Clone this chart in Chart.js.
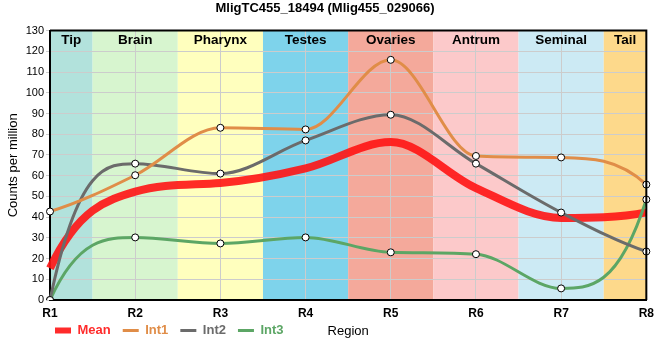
<!DOCTYPE html>
<html>
<head>
<meta charset="utf-8">
<script src="https://cdn.jsdelivr.net/npm/chart.js@4"></script>
<style>
html,body{margin:0;padding:0;background:#fff;}
#wrap{width:660px;height:360px;}
</style>
</head>
<body>
<div id="wrap"><canvas id="c" width="660" height="360"></canvas></div>
<script>
// ---- data ----
const regions = ['R1', 'R2', 'R3', 'R4', 'R5', 'R6', 'R7', 'R8'];
const bandNames = ['Tip', 'Brain', 'Pharynx', 'Testes', 'Ovaries', 'Antrum', 'Seminal', 'Tail'];
const bandColors = ['#b2e2dc', '#d7f5cf', '#ffffbe', '#7ed3eb', '#f4a99b', '#fcc9ca', '#cceaf4', '#fdd98b'];
const meanValues = [15.3, 52.3, 56.5, 63.5, 76.2, 54, 39.6, 42.3];
const int1Values = [42.7, 60.2, 83.1, 82.3, 115.9, 69.5, 68.8, 55.7];
const int2Values = [0, 65.8, 61, 77, 89.4, 65.8, 42.2, 23.4];
const int3Values = [0, 30.2, 27.3, 30.2, 23, 22.1, 5.6, 48.5];
const yMin = 0, yMax = 130, yStep = 10;
const titleText = 'MligTC455_18494 (Mlig455_029066)';
const xTitle = 'Region';
const yTitle = 'Counts per million';

const FONT = "'Liberation Sans', Arial, Helvetica, sans-serif";

// background bands + labels
const bandPlugin = {
  id: 'bands',
  beforeDraw(chart) {
    const {ctx, chartArea: a, scales: {x}} = chart;
    ctx.save();
    bandNames.forEach((name, i) => {
      const l = Math.max(a.left, x.getPixelForValue(i - 0.5));
      const r = Math.min(a.right, x.getPixelForValue(i + 0.5));
      ctx.fillStyle = bandColors[i];
      ctx.fillRect(l, a.top, r - l, a.bottom - a.top);
    });
    ctx.restore();
  },
  afterDatasetsDraw(chart) {
    const {ctx, chartArea: a, scales: {x}} = chart;
    ctx.save();
    ctx.font = "bold 13.5px " + FONT;
    ctx.fillStyle = '#000';
    ctx.textAlign = 'center';
    ctx.textBaseline = 'middle';
    bandNames.forEach((name, i) => {
      const l = Math.max(a.left, x.getPixelForValue(i - 0.5));
      const r = Math.min(a.right, x.getPixelForValue(i + 0.5));
      ctx.fillText(name, (l + r) / 2, a.top + 10);
    });
    ctx.restore();
  },
  afterDraw(chart) {
    const {ctx, chartArea: a} = chart;
    ctx.save();
    ctx.strokeStyle = '#000';
    ctx.lineWidth = 2;
    ctx.beginPath();
    ctx.moveTo(a.left, a.top);
    ctx.lineTo(a.right, a.top);
    ctx.lineTo(a.right, a.bottom);
    ctx.stroke();
    ctx.restore();
  }
};

// end-point tangents (steeper spline ends)
function clampSlope(m, d) {
  if (d === 0) return 0;
  const r = m / d;
  return d * Math.max(0, Math.min(3, r));
}
const endSlopePlugin = {
  id: 'endSlopes',
  beforeDatasetDraw(chart, args) {
    const meta = args.meta;
    const line = meta.dataset;
    if (!line || !line.updateControlPoints) return;
    line.updateControlPoints(chart.chartArea, meta.iScale.axis);
    const pts = line.points;
    const n = pts.length;
    if (n < 3) return;
    const p0 = pts[0], p1 = pts[1];
    let dx = p1.x - p0.x;
    let d = (p1.y - p0.y) / dx;
    let m1 = (p1.cp2y - p1.y) / (p1.cp2x - p1.x);
    let m0 = clampSlope(3 * d - 2 * m1, d);
    p0.cp2x = p0.x + dx / 3; p0.cp2y = p0.y + m0 * dx / 3;
    const pn = pts[n - 1], pm = pts[n - 2];
    dx = pn.x - pm.x;
    d = (pn.y - pm.y) / dx;
    m1 = (pm.cp1y - pm.y) / (pm.cp1x - pm.x);
    let mn = clampSlope(3 * d - 2 * m1, d);
    pn.cp1x = pn.x - dx / 3; pn.cp1y = pn.y - mn * dx / 3;
  }
};

// move legend so its first item starts near the axis and sits on the axis-title line
const legendShift = {
  id: 'legendShift',
  afterLayout(chart) {
    const L = chart.legend;
    if (L) { L.left -= 7; L.right -= 7; L.top -= 8; L.bottom -= 8; }
  }
};

const lineCommon = {
  cubicInterpolationMode: 'monotone',
  fill: false,
  pointRadius: 3.5,
  pointBackgroundColor: '#ffffff',
  pointBorderColor: '#000000',
  pointBorderWidth: 1,
  borderWidth: 3
};

const legendLineWidth = [6, 3, 3, 3];

new Chart(document.getElementById('c'), {
  type: 'line',
  data: {
    labels: regions,
    datasets: [
      {label: 'Mean', data: meanValues, borderColor: 'rgba(255,20,20,0.9)', backgroundColor: 'rgba(255,20,20,0.9)',
       borderWidth: 8, pointRadius: 0, cubicInterpolationMode: 'monotone', fill: false, order: 1},
      Object.assign({label: 'Int1', data: int1Values, borderColor: '#e08d48', backgroundColor: '#e08d48', order: 0}, lineCommon),
      Object.assign({label: 'Int2', data: int2Values, borderColor: '#6b6b6b', backgroundColor: '#6b6b6b', order: 0}, lineCommon),
      Object.assign({label: 'Int3', data: int3Values, borderColor: '#5ca665', backgroundColor: '#5ca665', order: 0}, lineCommon)
    ]
  },
  options: {
    responsive: false,
    animation: false,
    events: [],
    layout: {padding: {left: 0, right: 10, top: 0, bottom: 5}},
    plugins: {
      title: {display: true, text: titleText, color: '#000',
              font: {family: FONT, size: 13, weight: 'bold'}, padding: {top: 1, bottom: 14}},
      legend: {
        position: 'bottom', align: 'start', fullSize: false,
        labels: {
          usePointStyle: true, pointStyle: 'line', pointStyleWidth: 16, boxHeight: 6,
          padding: 12, font: {family: FONT, size: 13, weight: 'bold'},
          sort: (a, b) => a.datasetIndex - b.datasetIndex,
          generateLabels(chart) {
            const items = Chart.defaults.plugins.legend.labels.generateLabels(chart);
            items.forEach(it => {
              const ds = chart.data.datasets[it.datasetIndex];
              it.fontColor = ds.borderColor;
              it.strokeStyle = ds.borderColor;
              it.lineWidth = legendLineWidth[it.datasetIndex];
              it.pointStyle = 'line';
            });
            return items;
          }
        }
      },
      tooltip: {enabled: false}
    },
    scales: {
      x: {
        type: 'category', offset: false,
        grid: {color: '#cccccc', drawTicks: false},
        border: {display: true, color: '#000', width: 2},
        ticks: {color: '#000', font: {family: FONT, size: 12, weight: 'bold'}, padding: 6, maxRotation: 0, autoSkip: false},
        title: {display: true, text: xTitle, color: '#000', font: {family: FONT, size: 13}, padding: {top: 0, bottom: -19}},
        afterFit(s) { s.height = 20; }
      },
      y: {
        min: yMin, max: yMax,
        grid: {color: '#cccccc', tickLength: 4},
        border: {display: true, color: '#000', width: 2},
        ticks: {stepSize: yStep, color: '#000', font: {family: FONT, size: 11}, padding: 2},
        title: {display: true, text: yTitle, color: '#000', font: {family: FONT, size: 13}, padding: {top: 6, bottom: 0}},
        afterFit(s) { s.width = 50; }
      }
    }
  },
  plugins: [bandPlugin, endSlopePlugin, legendShift]
});
</script>
</body>
</html>
